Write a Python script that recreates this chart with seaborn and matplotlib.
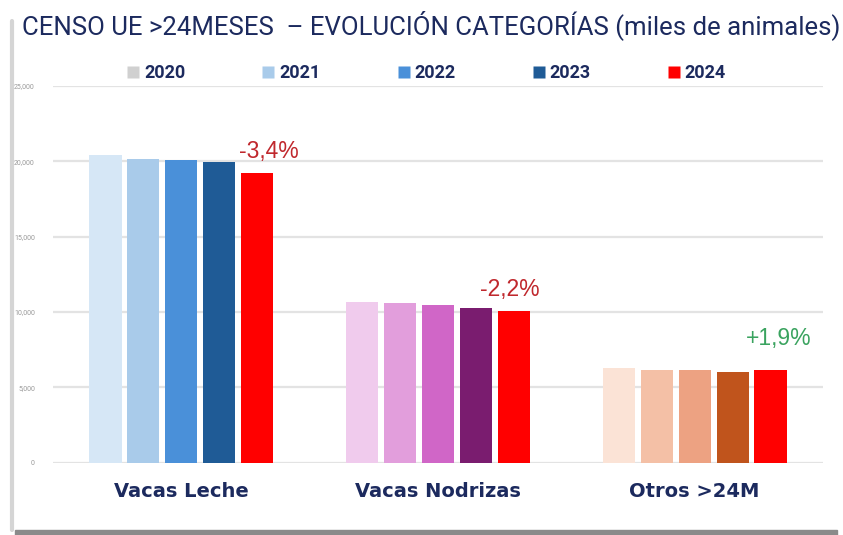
import matplotlib
matplotlib.use("Agg")
import matplotlib.pyplot as plt
import seaborn as sns
import pandas as pd
from matplotlib.patches import Rectangle
from matplotlib.lines import Line2D

categories = ["Vacas Leche", "Vacas Nodrizas", "Otros >24M"]
years = ["2020", "2021", "2022", "2023", "2024"]
leche = [20410, 20150, 20080, 19950, 19215]
nodrizas = [10660, 10590, 10440, 10285, 10060]
otros = [6270, 6185, 6120, 6005, 6165]
changes = ["-3,4%", "-2,2%", "+1,9%"]
yticks = [0, 5000, 10000, 15000, 20000, 25000]
ytick_labels = ["0", "5,000", "10,000", "15,000", "20,000", "25,000"]

legend_colors = ["#d0d0d0", "#a9cbea", "#4a90d9", "#1f5b96", "#ff0000"]
group_colors = [
    ["#d6e7f6", "#a9cbea", "#4a90d9", "#1f5b96", "#ff0000"],
    ["#f0cbed", "#e29edc", "#d066c7", "#7a1c6f", "#ff0000"],
    ["#fbe3d6", "#f4c0a6", "#eda282", "#c0541c", "#ff0000"],
]
change_colors = ["#c0282d", "#c0282d", "#3aa35f"]
navy = "#1c2a5e"

rows = []
for cat, vals in zip(categories, [leche, nodrizas, otros]):
    for y, v in zip(years, vals):
        rows.append({"cat": cat, "year": y, "value": v})
df = pd.DataFrame(rows)

sns.set_theme(style="white")
plt.rcParams["font.family"] = ["Roboto", "DejaVu Sans"]

fig = plt.figure(figsize=(8.43, 5.35), dpi=100)
ax = fig.add_axes([53 / 843, 1 - 462.7 / 535, (823 - 53) / 843, (462.7 - 86) / 535])

sns.barplot(data=df, x="cat", y="value", hue="year", order=categories,
            hue_order=years, palette=legend_colors, width=0.74, gap=0.15,
            ax=ax, legend=False, saturation=1)

for hi, cont in enumerate(ax.containers):
    for ci, bar in enumerate(cont):
        bar.set_facecolor(group_colors[ci][hi])
        bar.set_edgecolor("none")

ax.set_xlim(-0.5, 2.5)
ax.set_ylim(0, 25000)
ax.set_yticks(yticks)
ax.set_yticklabels(ytick_labels, fontsize=5, color="#9a9a9a")
ax.tick_params(axis="y", length=0, pad=13)
ax.tick_params(axis="x", length=0, pad=14)
ax.set_xticks(range(len(categories)))
ax.set_xticklabels(categories, fontsize=14, fontweight="bold", color=navy,
                   family=["DejaVu Sans"])
ax.set_xlabel("")
ax.set_ylabel("")
ax.grid(axis="y", color="#e3e3e3", linewidth=1.6)
ax.set_axisbelow(True)
for s in ax.spines.values():
    s.set_visible(False)

# change annotations above 2024 bars
last = ax.containers[-1]
offsets = [(12, 10), (-4, 10), (8, 20)]
for ci, bar in enumerate(last):
    x = bar.get_x() + bar.get_width() / 2
    h = bar.get_height()
    ax.annotate(changes[ci], xy=(x, h), xytext=offsets[ci], textcoords="offset pixels",
                ha="center", va="bottom", fontsize=16.5, color=change_colors[ci],
                family=["Liberation Sans", "DejaVu Sans"])

# legend
handles = [Line2D([], [], marker="s", linestyle="none", markersize=8,
                  markerfacecolor=c, markeredgecolor="none") for c in legend_colors]
fig.legend(handles, years, loc="center", bbox_to_anchor=(425 / 843, 1 - 73 / 535),
           ncol=5, frameon=False, handletextpad=0.1, columnspacing=4.1,
           prop={"weight": "bold", "size": 13}, labelcolor=navy, handlelength=1.0)

fig.text(22 / 843, 1 - 25 / 535,
         "CENSO UE >24MESES  – EVOLUCIÓN CATEGORÍAS (miles de animales)",
         fontsize=18.5, color=navy, ha="left", va="center")

# frame decorations
fig.add_artist(Line2D([11.5 / 843, 11.5 / 843], [0.01, 0.96], color="#d5d5d5", linewidth=3))
fig.add_artist(Rectangle((15 / 843, 0), (837 - 15) / 843, 5 / 535, color="#8a8a8a",
                         transform=fig.transFigure))

fig.savefig("out.png", dpi=100)
